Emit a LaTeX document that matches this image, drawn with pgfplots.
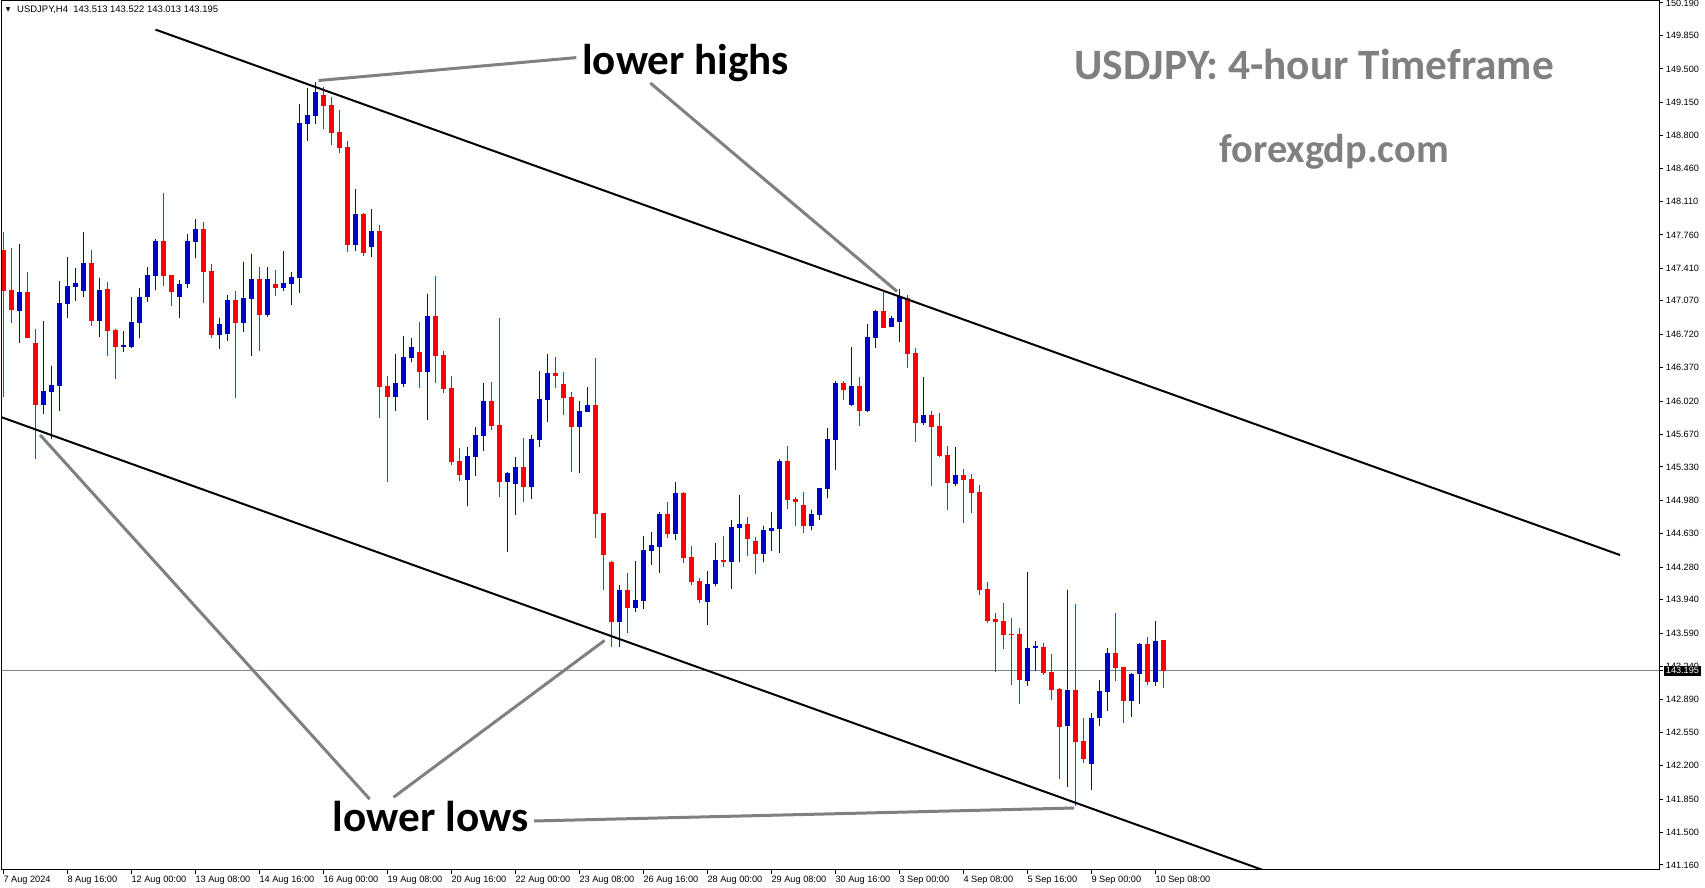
\documentclass[border=0pt]{standalone}
\usepackage{pgfplots}
\pgfplotsset{compat=1.18}
\usepackage{pgfplotstable}
\usepackage{fontspec}
\setmainfont{Liberation Sans}
\newfontfamily\calib{Carlito}
\newfontfamily\dejavu{DejaVu Sans}
\definecolor{bull}{HTML}{0000CD}
\definecolor{bear}{HTML}{FF0000}
\definecolor{annot}{HTML}{808080}
\definecolor{pline}{HTML}{778899}

\pgfplotstableread{
i o h l c
2 146.967 147.666 146.632 147.163
5 145.983 146.859 145.885 146.126
6 146.119 146.388 145.620 146.189
7 146.182 147.278 145.920 147.048
8 147.041 147.530 146.894 147.226
9 147.219 147.414 147.072 147.257
10 147.177 147.791 147.114 147.467
12 146.863 147.309 146.695 147.184
15 146.590 146.751 146.538 146.611
16 146.590 147.114 146.573 146.849
17 146.842 147.208 146.684 147.110
18 147.107 147.421 147.062 147.341
19 147.334 147.715 147.187 147.697
22 147.114 147.288 146.894 147.247
23 147.247 147.770 147.208 147.697
24 147.690 147.924 147.522 147.823
27 146.716 146.891 146.569 146.828
28 146.727 147.131 146.653 147.079
30 146.842 147.477 146.748 147.100
31 147.093 147.561 146.496 147.299
33 146.925 147.425 146.905 147.299
35 147.208 147.592 147.177 147.257
36 147.250 147.372 147.030 147.320
37 147.313 149.132 147.156 148.933
38 148.926 149.300 148.748 149.017
39 149.010 149.366 148.923 149.258
44 147.655 148.242 147.592 147.980
46 147.634 148.032 147.530 147.802
49 146.063 146.514 145.917 146.210
50 146.199 146.702 146.168 146.482
51 146.475 146.681 146.433 146.587
53 146.328 147.142 145.826 146.911
58 145.197 145.539 144.925 145.445
59 145.438 145.749 145.239 145.665
60 145.658 146.210 145.501 146.021
63 145.176 145.281 144.443 145.270
64 145.155 145.434 144.830 145.330
66 145.124 145.665 144.998 145.623
67 145.616 146.335 145.543 146.042
68 146.035 146.513 145.805 146.314
72 145.752 146.021 145.270 145.916
73 145.909 146.171 145.906 145.979
77 143.709 144.093 143.440 144.040
79 143.856 144.345 143.814 143.936
80 143.929 144.606 143.845 144.460
81 144.453 144.648 144.306 144.512
82 144.495 144.858 144.222 144.837
84 144.631 145.172 144.568 145.057
88 143.918 144.240 143.678 144.104
89 144.107 144.533 144.086 144.355
91 144.338 144.774 144.055 144.701
92 144.694 145.036 144.338 144.732
95 144.421 144.711 144.338 144.669
96 144.662 144.858 144.453 144.694
97 144.683 145.413 144.432 145.396
101 144.715 144.882 144.669 144.837
102 144.826 145.109 144.778 145.109
103 145.102 145.738 145.004 145.623
104 145.616 146.230 145.298 146.209
106 145.979 146.586 145.968 146.178
108 145.916 146.827 145.909 146.691
109 146.684 146.974 146.576 146.963
111 146.796 146.911 146.796 146.890
112 146.848 147.194 146.639 147.124
115 145.787 146.272 145.773 145.874
119 145.151 145.542 145.134 145.245
128 143.091 144.229 143.039 143.433
129 143.430 143.507 143.196 143.451
133 142.620 144.041 141.981 142.993
136 142.222 142.752 141.949 142.700
137 142.703 143.098 142.620 142.983
138 142.976 143.433 142.777 143.381
141 142.882 143.175 142.714 143.161
142 143.164 143.489 142.850 143.475
144 143.080 143.720 143.039 143.513
}\bulltab

\pgfplotstableread{
i o h l c
0 147.603 147.795 146.066 147.177
1 147.184 147.624 146.842 146.978
3 147.163 147.372 146.680 146.684
4 146.629 146.775 145.417 145.983
11 147.467 147.603 146.807 146.863
13 147.194 147.268 146.496 146.758
14 146.765 146.772 146.255 146.590
20 147.697 148.200 147.226 147.334
21 147.341 147.341 147.016 147.166
25 147.823 147.896 147.051 147.376
26 147.383 147.456 146.685 146.716
29 147.079 147.173 146.056 146.842
32 147.299 147.425 146.548 146.925
34 147.247 147.393 147.124 147.208
40 149.227 149.307 148.870 149.111
41 149.122 149.206 148.706 148.828
42 148.839 149.069 148.619 148.675
43 148.682 148.745 147.582 147.655
45 147.980 147.990 147.540 147.571
47 147.802 147.865 145.843 146.168
48 146.178 146.283 145.173 146.063
52 146.534 146.849 146.161 146.328
54 146.911 147.330 146.213 146.496
55 146.503 146.545 146.108 146.150
56 146.157 146.283 145.354 145.386
57 145.393 145.529 145.186 145.250
61 146.021 146.220 145.721 145.763
62 145.770 146.891 145.019 145.176
65 145.330 145.634 144.967 145.124
69 146.314 146.482 146.161 146.286
70 146.203 146.325 145.878 146.056
71 146.063 146.119 145.281 145.752
74 145.979 146.475 144.590 144.841
75 144.844 144.844 144.045 144.404
76 144.334 144.345 143.440 143.709
78 144.040 144.219 143.594 143.856
83 144.837 144.963 144.589 144.631
85 145.057 145.067 144.327 144.379
86 144.386 144.502 144.097 144.128
87 144.135 144.166 143.908 143.939
90 144.355 144.606 144.285 144.338
93 144.732 144.805 144.400 144.578
94 144.554 144.596 144.212 144.421
98 145.396 145.549 144.893 144.987
99 144.997 145.018 144.715 144.966
100 144.931 145.067 144.641 144.715
105 146.209 146.230 146.035 146.139
107 146.178 146.272 145.762 145.916
110 146.963 147.173 146.789 146.789
113 147.103 147.131 146.366 146.516
114 146.523 146.576 145.595 145.794
116 145.874 145.916 145.134 145.752
117 145.759 145.898 145.437 145.444
118 145.455 145.549 144.882 145.165
120 145.245 145.308 144.746 145.193
121 145.204 145.256 144.851 145.060
122 145.067 145.141 143.992 144.044
123 144.051 144.124 143.699 143.720
124 143.737 143.803 143.185 143.709
125 143.716 143.905 143.426 143.573
126 143.580 143.748 143.049 143.573
127 143.580 143.643 142.850 143.102
130 143.444 143.486 143.154 143.175
131 143.182 143.370 142.892 142.997
132 143.007 143.018 142.065 142.609
134 142.993 143.894 141.782 142.452
135 142.459 142.700 142.232 142.274
139 143.381 143.803 143.091 143.227
140 143.234 143.238 142.651 142.882
143 143.475 143.552 143.049 143.080
145 143.513 143.522 143.013 143.195
}\beartab

\pgfplotsset{
  wick/.style={draw=none, mark=none, forget plot,
    error bars/.cd, y dir=both, y explicit, error mark=none,
    error bar style={draw=#1, line width=0.75pt, solid}},
  body/.style={draw=none, mark=none, forget plot,
    error bars/.cd, y dir=both, y explicit, error mark=none,
    error bar style={draw=#1, line width=3.75pt, solid, line cap=butt}},
}

\begin{document}
\begin{tikzpicture}
\useasboundingbox (-1.5pt,-13.5pt) rectangle (1277.25pt,652.5pt);
\begin{axis}[
  at={(0pt,0pt)}, anchor=south west,
  scale only axis, width=1242.75pt, height=651.75pt,
  xmin=-0.16, xmax=206.96, ymin=141.1075, ymax=150.211,
  clip mode=individual,
  axis line style={line width=0.75pt, black},
  tick style={black, line width=0.75pt},
  major tick length=3pt,
  tick align=outside,
  xtick pos=left, ytick pos=right, yticklabel pos=right,
  xtick={0,8,...,144},
  xticklabels={7 Aug 2024, 8 Aug 16:00, 12 Aug 00:00, 13 Aug 08:00, 14 Aug 16:00, 16 Aug 00:00, 19 Aug 08:00, 20 Aug 16:00, 22 Aug 00:00, 23 Aug 08:00, 26 Aug 16:00, 28 Aug 00:00, 29 Aug 08:00, 30 Aug 16:00, 3 Sep 00:00, 4 Sep 08:00, 5 Sep 16:00, 9 Sep 00:00, 10 Sep 08:00},
  xticklabel style={anchor=north west, inner sep=0pt, yshift=-1.5pt, font=\fontsize{6.9}{8}\selectfont},
  ytick={150.19,149.85,149.5,149.15,148.8,148.46,148.11,147.76,147.41,147.07,146.72,146.37,146.02,145.67,145.33,144.98,144.63,144.28,143.94,143.59,143.24,142.89,142.55,142.2,141.85,141.5,141.16},
  yticklabels={150.190,149.850,149.500,149.150,148.800,148.460,148.110,147.760,147.410,147.070,146.720,146.370,146.020,145.670,145.330,144.980,144.630,144.280,143.940,143.590,143.240,142.890,142.550,142.200,141.850,141.500,141.160},
  yticklabel style={anchor=west, inner sep=0pt, xshift=2pt, font=\fontsize{6.85}{8}\selectfont},
  extra y ticks={143.195},
  extra y tick labels={143.195},
  extra y tick style={yticklabel style={fill=black, text=white, inner xsep=1.2pt, inner ysep=1.2pt, xshift=-1.2pt}},
]
% price line
\addplot[pline, line width=0.75pt, forget plot] coordinates {(-1,143.195) (210,143.195)};

% wicks
\addplot[wick=bull] table[x=i, y expr={(\thisrow{h}+\thisrow{l})/2}, y error expr={(\thisrow{h}-\thisrow{l})/2}] {\bulltab};
\addplot[wick=bear] table[x=i, y expr={(\thisrow{h}+\thisrow{l})/2}, y error expr={(\thisrow{h}-\thisrow{l})/2}] {\beartab};
% bodies
\addplot[body=bull] table[x=i, y expr={(\thisrow{o}+\thisrow{c})/2}, y error expr={max(abs(\thisrow{c}-\thisrow{o})/2,0.006)}] {\bulltab};
\addplot[body=bear] table[x=i, y expr={(\thisrow{o}+\thisrow{c})/2}, y error expr={max(abs(\thisrow{c}-\thisrow{o})/2,0.006)}] {\beartab};

% channel
\addplot[black, line width=1.5pt, forget plot] coordinates {(19.03,149.911) (202.09,144.407)};
\addplot[black, line width=1.5pt, forget plot] coordinates {(-0.16,145.849) (165,140.880)};

% annotation connectors
\addplot[annot, line width=2.25pt, forget plot] coordinates {(39.41,149.378) (71.63,149.618)};
\addplot[annot, line width=2.25pt, forget plot] coordinates {(80.88,149.352) (111.71,147.169)};
\addplot[annot, line width=2.25pt, forget plot] coordinates {(4.61,145.664) (45.8,141.85)};
\addplot[annot, line width=2.25pt, forget plot] coordinates {(48.79,141.87) (75.16,143.512)};
\addplot[annot, line width=2.25pt, forget plot] coordinates {(66.34,141.621) (133.84,141.757)};

% texts
\node[anchor=base west, inner sep=0pt, font=\calib\bfseries\fontsize{32.3}{32}\selectfont] at (axis cs:72.34,149.446) {lower highs};
\node[anchor=base west, inner sep=0pt, font=\calib\bfseries\fontsize{32.4}{32}\selectfont] at (axis cs:41.18,141.506) {lower lows};
\node[anchor=base west, inner sep=0pt, text=annot, font=\calib\bfseries\fontsize{32.5}{32}\selectfont] at (axis cs:133.84,149.389) {USDJPY: 4-hour Timeframe};
\node[anchor=base west, inner sep=0pt, text=annot, font=\calib\bfseries\fontsize{30.2}{30}\selectfont] at (axis cs:152.0,148.517) {forexgdp.com};
\node[anchor=west, inner sep=0pt, font=\fontsize{7.1}{8}\selectfont] at (axis cs:1.71,150.122) {USDJPY,H4\ \ 143.513 143.522 143.013 143.195};
\node[anchor=center, inner sep=0pt, font=\dejavu\fontsize{4.5}{5}\selectfont] at (axis cs:0.6,150.12) {▼};
\end{axis}
\end{tikzpicture}
\end{document}
